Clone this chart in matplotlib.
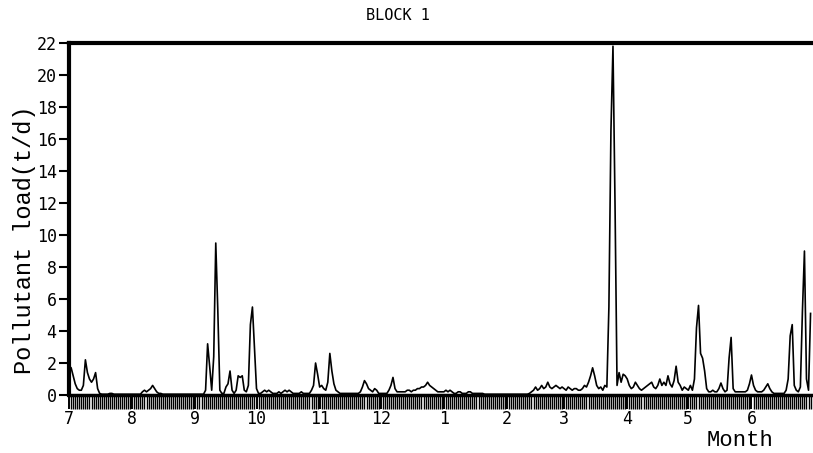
import matplotlib
matplotlib.use("Agg")
import matplotlib.pyplot as plt
import numpy as np

# daily pollutant load (t/d), July -> June
jul = [1.8, 1.7, 1.2, 0.7, 0.4, 0.3, 0.3, 0.6, 2.2, 1.4, 1.0, 0.8, 1.0, 1.4, 0.4, 0.1,
       0.05, 0.05, 0.05, 0.05, 0.1, 0.1, 0.05, 0.05, 0.05, 0.05, 0.05, 0.05, 0.05, 0.05, 0.05]
aug = [0.05, 0.05, 0.05, 0.05, 0.05, 0.2, 0.3, 0.2, 0.3, 0.4, 0.6, 0.4, 0.2, 0.1, 0.1,
       0.05, 0.05, 0.05, 0.05, 0.05, 0.05, 0.05, 0.05, 0.05, 0.05, 0.05, 0.05, 0.05, 0.05, 0.05, 0.05]
sep = [0.05, 0.05, 0.05, 0.05, 0.05, 0.3, 3.2, 1.8, 0.3, 2.4, 9.5, 5.3, 0.3, 0.1, 0.1,
       0.5, 0.7, 1.5, 0.3, 0.1, 0.3, 1.2, 1.1, 1.2, 0.3, 0.2, 0.6, 4.4, 5.5, 2.9]
oct = [0.4, 0.1, 0.1, 0.2, 0.3, 0.2, 0.3, 0.2, 0.1, 0.1, 0.1, 0.2, 0.1, 0.2, 0.3, 0.2,
       0.3, 0.2, 0.1, 0.1, 0.1, 0.1, 0.2, 0.1, 0.1, 0.1, 0.1, 0.3, 0.6, 2.0, 1.3]
nov = [0.5, 0.6, 0.4, 0.3, 0.8, 2.6, 1.5, 0.7, 0.3, 0.2, 0.1, 0.1, 0.1, 0.1, 0.1,
       0.1, 0.1, 0.1, 0.1, 0.1, 0.2, 0.5, 0.9, 0.7, 0.4, 0.3, 0.2, 0.4, 0.3, 0.1]
dec = [0.1, 0.1, 0.1, 0.1, 0.3, 0.6, 1.1, 0.4, 0.2, 0.2, 0.2, 0.2, 0.2, 0.3, 0.3, 0.2,
       0.3, 0.3, 0.4, 0.4, 0.5, 0.5, 0.6, 0.8, 0.6, 0.5, 0.4, 0.3, 0.2, 0.2, 0.2]
jan = [0.2, 0.3, 0.2, 0.3, 0.2, 0.1, 0.1, 0.2, 0.2, 0.1, 0.1, 0.1, 0.2, 0.2, 0.1, 0.1,
       0.1, 0.1, 0.1, 0.1, 0.05, 0.05, 0.05, 0.05, 0.05, 0.05, 0.05, 0.05, 0.05, 0.05, 0.05]
feb = [0.05, 0.05, 0.05, 0.05, 0.05, 0.05, 0.05, 0.05, 0.05, 0.05, 0.05, 0.1, 0.2, 0.3,
       0.5, 0.3, 0.4, 0.6, 0.4, 0.5, 0.8, 0.5, 0.4, 0.5, 0.6, 0.5, 0.4, 0.5]
mar = [0.4, 0.3, 0.5, 0.4, 0.3, 0.4, 0.4, 0.3, 0.3, 0.4, 0.6, 0.5, 0.8, 1.2, 1.7, 1.2,
       0.6, 0.4, 0.5, 0.3, 0.6, 0.5, 5.5, 16.5, 21.8, 12.0, 0.6, 1.4, 0.8, 1.3, 1.2]
apr = [1.0, 0.6, 0.4, 0.5, 0.8, 0.6, 0.4, 0.3, 0.4, 0.5, 0.6, 0.7, 0.8, 0.5, 0.4,
       0.6, 1.0, 0.6, 0.8, 0.6, 1.2, 0.7, 0.5, 0.9, 1.8, 0.8, 0.6, 0.3, 0.5, 0.4]
may = [0.3, 0.6, 0.3, 1.0, 4.2, 5.6, 2.6, 2.3, 1.5, 0.4, 0.2, 0.2, 0.3, 0.2, 0.2, 0.4,
       0.75, 0.4, 0.2, 0.3, 2.3, 3.6, 0.4, 0.2, 0.2, 0.2, 0.2, 0.2, 0.2, 0.3, 0.7]
jun = [1.25, 0.6, 0.3, 0.2, 0.2, 0.2, 0.3, 0.5, 0.7, 0.4, 0.2, 0.1, 0.1, 0.1, 0.1,
       0.1, 0.1, 0.3, 1.0, 3.7, 4.4, 0.6, 0.3, 0.2, 0.5, 5.2, 9.0, 1.0, 0.3, 5.1]

months = [jul, aug, sep, oct, nov, dec, jan, feb, mar, apr, may, jun]
month_labels = ['7', '8', '9', '10', '11', '12', '1', '2', '3', '4', '5', '6']

load = np.concatenate(months)
day = np.arange(len(load))
month_start = np.cumsum([0] + [len(m) for m in months[:-1]])

fig = plt.figure(figsize=(8.13, 4.53), dpi=100)
ax = fig.add_axes([0.085, 0.128, 0.9145, 0.777])

ax.plot(day, load, color='black', lw=1.2)

ax.set_xlim(0, 365)
ax.set_ylim(0, 22)
ax.set_yticks(np.arange(0, 23, 2))
ax.set_xticks(month_start)
ax.set_xticklabels(month_labels)
ax.set_xticks(day, minor=True)

tick_font = 'DejaVu Sans Mono'
ax.tick_params(axis='y', direction='out', length=7, width=1.5, labelsize=12, pad=2)
ax.tick_params(axis='x', which='major', direction='out', length=10, width=1.4,
               labelsize=12, pad=1)
ax.tick_params(axis='x', which='minor', direction='out', length=10, width=1.0)
for lab in ax.get_xticklabels() + ax.get_yticklabels():
    lab.set_family(tick_font)

ax.spines['right'].set_visible(False)
ax.spines['top'].set_linewidth(3)
ax.spines['left'].set_linewidth(3)
ax.spines['bottom'].set_linewidth(2.5)

ax.set_ylabel('Pollutant load(t/d)', family='Liberation Mono', fontsize=17)
ax.yaxis.set_label_coords(-0.045, 0.44)
fig.text(0.91, 0.004, 'Month', family='Liberation Mono', fontsize=16,
         ha='center', va='bottom')
fig.text(0.49, 0.955, 'BLOCK 1', family=tick_font, fontsize=11, ha='center')

plt.savefig('out.png', dpi=100)
